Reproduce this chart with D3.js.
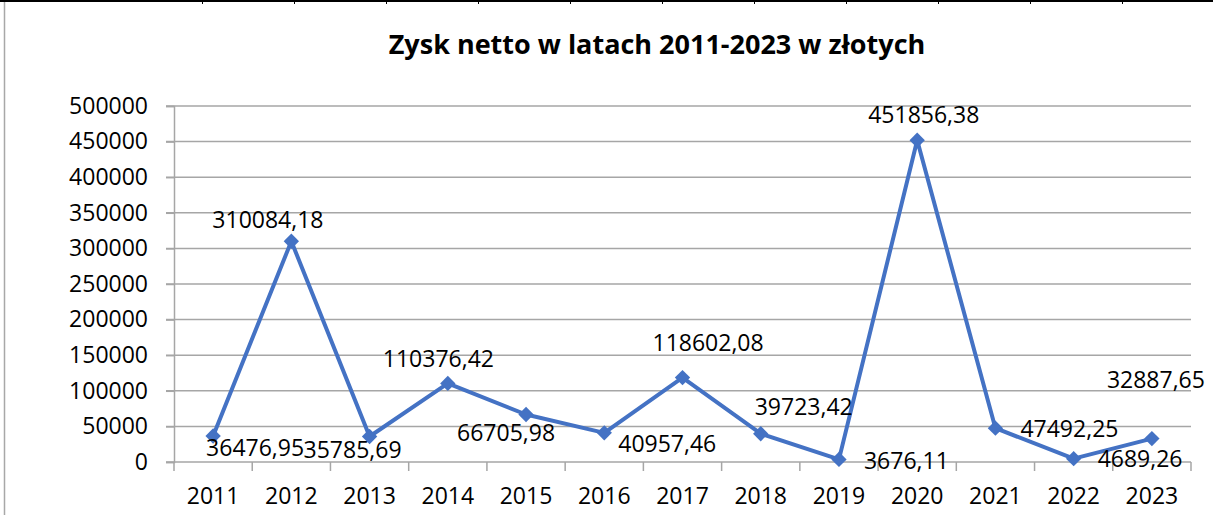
<!DOCTYPE html>
<html>
<head>
<meta charset="utf-8">
<script src="https://cdn.jsdelivr.net/npm/d3@7"></script>
<style>
  body { margin: 0; background: #fff; }
  svg { display: block; font-family: "Open Sans", sans-serif; }
</style>
</head>
<body>
<div id="chart"></div>
<script>
// data
const years = ['2011', '2012', '2013', '2014', '2015', '2016', '2017', '2018', '2019', '2020', '2021', '2022', '2023'];
const profit = [36476.95, 310084.18, 35785.69, 110376.42, 66705.98, 40957.46, 118602.08, 39723.42, 3676.11, 451856.38, 47492.25, 4689.26, 32887.65];
const yTicks = [0, 50000, 100000, 150000, 200000, 250000, 300000, 350000, 400000, 450000, 500000];
const title = 'Zysk netto w latach 2011-2023 w złotych';

// where each data label sits relative to its point (left edge, baseline)
const labelOffsets = [[-7, 20], [-79, -13], [-66, 21], [-65, -16], [-69, 26], [14, 19], [-30, -27],
                      [-6, -19], [25, 10], [-49, -17], [25, 9], [24, 8], [-45, -51]];

const lineColor = '#4472C4';
const gridColor = '#a6a6a6';

const width = 1213, height = 515;
const margin = {top: 106, right: 22, bottom: 53, left: 174};

const svg = d3.select('#chart').append('svg')
  .attr('width', width)
  .attr('height', height);

// spreadsheet cell borders peeking above the chart
svg.append('line')
  .attr('x1', 0).attr('x2', width).attr('y1', 1).attr('y2', 1)
  .attr('stroke', '#000').attr('stroke-width', 2);
svg.selectAll('.cell')
  .data(d3.range(202, width + 1, 92))
  .enter().append('line')
  .attr('x1', d => d + 0.5).attr('x2', d => d + 0.5)
  .attr('y1', 0).attr('y2', 4)
  .attr('stroke', '#000').attr('stroke-width', 1);
// chart frame (left edge)
svg.append('line')
  .attr('x1', 4.5).attr('x2', 4.5).attr('y1', 2).attr('y2', height)
  .attr('stroke', '#a8a8a8').attr('stroke-width', 1.5);

// title
svg.append('text')
  .attr('x', 657).attr('y', 54)
  .attr('text-anchor', 'middle')
  .style('font-size', '27px')
  .style('font-weight', 700)
  .text(title);

// scales
const x = d3.scaleBand().domain(years).range([margin.left, width - margin.right]).padding(0);
const y = d3.scaleLinear().domain([0, 500000]).range([height - margin.bottom, margin.top]);

// gridlines
svg.append('g')
  .selectAll('line')
  .data(yTicks)
  .enter().append('line')
  .attr('x1', margin.left - 8)
  .attr('x2', width - margin.right)
  .attr('y1', d => y(d)).attr('y2', d => y(d))
  .attr('stroke', gridColor).attr('stroke-width', 1.5);

// y axis
const yAxis = svg.append('g')
  .attr('transform', 'translate(' + margin.left + ',0)')
  .call(d3.axisLeft(y).tickValues(yTicks).tickSize(8).tickPadding(18).tickFormat(d3.format('d')));
yAxis.select('.domain').attr('stroke', gridColor).attr('stroke-width', 1.5);
yAxis.selectAll('.tick line').attr('stroke', gridColor).attr('stroke-width', 1.5);
yAxis.selectAll('text').style('font-size', '23px').attr('fill', '#000').attr('font-family', '"Open Sans", sans-serif');

// x axis: ticks on category boundaries
svg.append('g')
  .selectAll('line')
  .data(years.concat(['end']))
  .enter().append('line')
  .attr('x1', (d, i) => margin.left + i * x.step())
  .attr('x2', (d, i) => margin.left + i * x.step())
  .attr('y1', y(0)).attr('y2', y(0) + 9)
  .attr('stroke', gridColor).attr('stroke-width', 1.5);
svg.append('g')
  .selectAll('text')
  .data(years)
  .enter().append('text')
  .attr('x', d => x(d) + x.bandwidth() / 2)
  .attr('y', 504)
  .attr('text-anchor', 'middle')
  .style('font-size', '23px')
  .text(d => d);

// series
const pts = years.map((yr, i) => ({year: yr, value: profit[i], off: labelOffsets[i]}));
const line = d3.line()
  .x(d => x(d.year) + x.bandwidth() / 2)
  .y(d => y(d.value));

svg.append('path')
  .datum(pts)
  .attr('d', line)
  .attr('fill', 'none')
  .attr('stroke', lineColor)
  .attr('stroke-width', 4)
  .attr('stroke-linejoin', 'round');

svg.selectAll('.marker')
  .data(pts)
  .enter().append('path')
  .attr('class', 'marker')
  .attr('d', d3.symbol().type(d3.symbolDiamond2).size(150))
  .attr('transform', d => 'translate(' + (x(d.year) + x.bandwidth() / 2) + ',' + y(d.value) + ')')
  .attr('fill', lineColor);

// data labels
const pl = d3.formatLocale({decimal: ',', thousands: '', grouping: [3], currency: ['', ' zł']});
const fmt = pl.format('.2f');
svg.selectAll('.lbl')
  .data(pts)
  .enter().append('text')
  .attr('class', 'lbl')
  .attr('x', d => x(d.year) + x.bandwidth() / 2 + d.off[0])
  .attr('y', d => y(d.value) + d.off[1])
  .style('font-size', '23px')
  .text(d => fmt(d.value));
</script>
</body>
</html>
